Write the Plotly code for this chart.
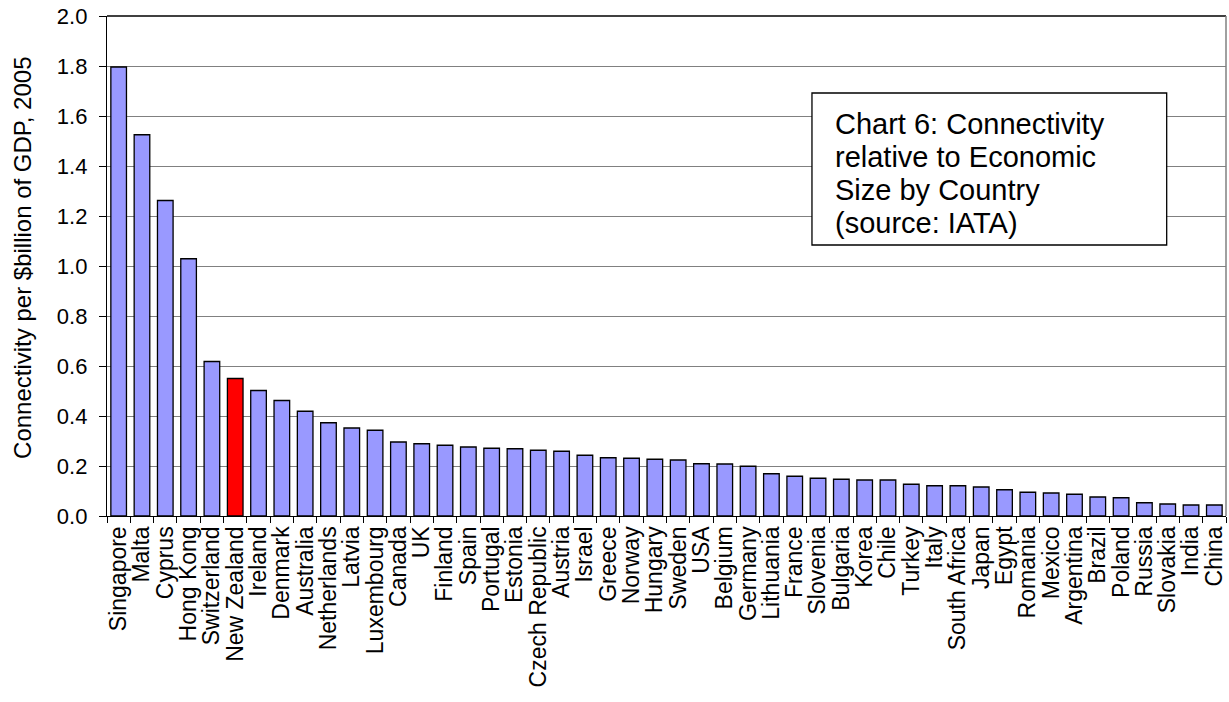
import plotly.graph_objects as go

countries = ["Singapore", "Malta", "Cyprus", "Hong Kong", "Switzerland", "New Zealand",
             "Ireland", "Denmark", "Australia", "Netherlands", "Latvia", "Luxembourg",
             "Canada", "UK", "Finland", "Spain", "Portugal", "Estonia", "Czech Republic",
             "Austria", "Israel", "Greece", "Norway", "Hungary", "Sweden", "USA", "Belgium",
             "Germany", "Lithuania", "France", "Slovenia", "Bulgaria", "Korea", "Chile",
             "Turkey", "Italy", "South Africa", "Japan", "Egypt", "Romania", "Mexico",
             "Argentina", "Brazil", "Poland", "Russia", "Slovakia", "India", "China"]
values = [1.796, 1.525, 1.262, 1.029, 0.618, 0.550,
          0.502, 0.462, 0.419, 0.373, 0.352, 0.343,
          0.296, 0.289, 0.283, 0.276, 0.271, 0.269, 0.263,
          0.259, 0.243, 0.233, 0.231, 0.227, 0.224, 0.209, 0.208,
          0.199, 0.169, 0.159, 0.151, 0.147, 0.144, 0.144,
          0.127, 0.121, 0.121, 0.116, 0.105, 0.095, 0.092,
          0.087, 0.076, 0.073, 0.053, 0.048, 0.044, 0.044]
highlight = "New Zealand"
y_ticks = [0.0, 0.2, 0.4, 0.6, 0.8, 1.0, 1.2, 1.4, 1.6, 1.8, 2.0]
note_lines = ["Chart 6: Connectivity", "relative to Economic", "Size by Country", "(source: IATA)"]
y_title = "Connectivity per $billion of GDP, 2005"

colors = ["#FF0000" if c == highlight else "#9999FF" for c in countries]

fig = go.Figure(go.Bar(
    x=countries, y=values,
    marker=dict(color=colors, line=dict(color="#000000", width=1.3)),
    width=0.67,
))

font_family = "Liberation Sans, Arial, sans-serif"

# plot area: x 107..1226, y 16..516 (500 px tall)
def py(pix):
    return (516 - pix) / 500.0

annotations = []
for i, line in enumerate(note_lines):
    annotations.append(dict(
        xref="paper", yref="paper", x=(833 - 107) / 1119, y=py(124 + 33 * i),
        xanchor="left", yanchor="middle", align="left", showarrow=False,
        text=line, font=dict(size=29, family=font_family, color="black")))
annotations.append(dict(
    xref="paper", yref="paper", x=-0.076, y=py(258), xanchor="center", yanchor="middle",
    textangle=-90, showarrow=False, text=y_title,
    font=dict(size=24, family=font_family, color="black")))

fig.update_layout(
    width=1229, height=702,
    margin=dict(l=107, r=3, t=16, b=186),
    paper_bgcolor="white", plot_bgcolor="white",
    showlegend=False,
    font=dict(family=font_family, color="black"),
    xaxis=dict(
        type="category",
        tickmode="array", tickvals=countries, ticktext=countries,
        tickangle=-90,
        tickfont=dict(size=23, family=font_family, color="black"),
        showline=True, linecolor="black", linewidth=1.3,
        ticks="outside", tickson="boundaries", ticklen=6, tickcolor="black", tickwidth=1,
        showgrid=False,
        range=[-0.5, len(countries) - 0.5],
        automargin=False,
    ),
    yaxis=dict(
        range=[0, 2.0],
        tickvals=y_ticks,
        ticktext=[f"{v:.1f}" for v in y_ticks],
        tickfont=dict(size=22, family=font_family, color="black"),
        showline=True, linecolor="black", linewidth=1.3,
        ticks="outside", ticklen=7, tickcolor="black", tickwidth=1,
        ticklabelstandoff=7,
        showgrid=True, gridcolor="#808080", gridwidth=1,
        zeroline=False,
        automargin=False,
    ),
    shapes=[
        dict(type="line", xref="paper", yref="paper", x0=0, x1=1, y0=1, y1=1,
             line=dict(color="black", width=1.5)),
        dict(type="line", xref="paper", yref="paper", x0=1, x1=1, y0=0, y1=1,
             line=dict(color="#808080", width=1.5)),
        dict(type="rect", xref="paper", yref="paper", x0=0.630, x1=0.947, y0=py(245), y1=py(93),
             fillcolor="white", line=dict(color="black", width=1.3), layer="above"),
    ],
    annotations=annotations,
)

fig.write_html("out.html")
